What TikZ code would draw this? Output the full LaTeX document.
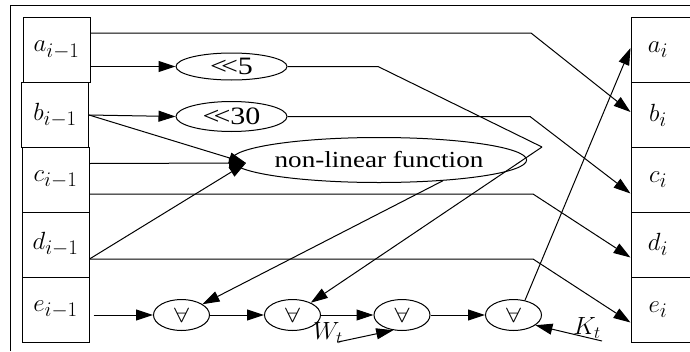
\documentclass[tikz,border=0pt]{standalone}
\usepackage{fontspec}
\setmainfont{Liberation Serif}
\usetikzlibrary{arrows.meta,shapes.geometric,calc}
\newcommand{\hsc}[2][1.2]{\scalebox{#1}[1]{#2}}
\begin{document}
\begin{tikzpicture}[x=1pt,y=-1pt,line width=1pt,
  arr/.style={-{Triangle[length=17pt,width=11pt]}},
  lab/.style={font=\fontsize{28}{32}\selectfont},
  lbox/.style={draw,minimum width=67pt,minimum height=65pt,inner sep=0pt,lab},
  rbox/.style={draw,minimum width=70pt,minimum height=65pt,inner sep=0pt},
  rot/.style={draw,ellipse,minimum width=111pt,inner sep=0pt,font=\fontsize{25}{28}\selectfont},
  add/.style={draw,ellipse,minimum width=56pt,minimum height=31pt,inner sep=0pt,font=\fontsize{22}{26}\selectfont}]
\useasboundingbox (0,0) rectangle (690,351);
\draw (10,351) -- (10,5) -- (690,5);
% left registers
\node[lbox] (a1) at (56.5,50) {$a_{i-1}$};
\node[lbox] (b1) at (55,115) {$b_{i-1}$};
\node[lbox] (c1) at (55.5,179.5) {$c_{i-1}$};
\node[lbox] (d1) at (55.5,244.5) {$d_{i-1}$};
\node[lbox] (e1) at (55.5,309.5) {$e_{i-1}$};
% right registers
\node[rbox,label={[lab,xshift=-8pt]center:$a_i$}] (ai) at (666,50) {};
\node[rbox,label={[lab,xshift=-8pt]center:$b_i$}] (bi) at (666,115) {};
\node[rbox,label={[lab,xshift=-8pt]center:$c_i$}] (ci) at (666,179.5) {};
\node[rbox,label={[lab,xshift=-8pt]center:$d_i$}] (di) at (666,244.5) {};
\node[rbox,label={[lab,xshift=-8pt]center:$e_i$}] (ei) at (666,309.5) {};
% functions
\node[rot,minimum height=27pt] (r5) at (231.5,66.5) {\hsc{<\kern-0.2em<5}};
\node[rot,minimum height=30pt] (r30) at (231.5,116.5) {\hsc{<\kern-0.2em<30}};
\node[draw,ellipse,minimum width=258pt,minimum height=45pt,inner sep=0pt,font=\fontsize{23}{26}\selectfont] (nlf) at (379,160) {\hsc[1.18]{non-linear function}};
\node[add] (f1) at (181.5,315) {\hsc[1.3]{$\forall$}};
\node[add] (f2) at (292.5,315) {\hsc[1.3]{$\forall$}};
\node[add] (f3) at (402,315) {\hsc[1.3]{$\forall$}};
\node[add] (f4) at (513.5,315) {\hsc[1.3]{$\forall$}};
\node[font=\fontsize{24}{26}\selectfont] (wt) at (328,333) {$W_t$};
\node[font=\fontsize{24}{26}\selectfont] (kt) at (587,328) {$K_t$};
\coordinate (jn) at (246,163);
\coordinate (wtc) at (338,342);
\coordinate (ktc) at (602,341);
% connectors
\draw[arr] ($(a1.east)+(0,-17)$) -- (531,33) -- ($(bi.west)+(0,-3)$);
\draw[arr] ($(a1.east)+(0,16.5)$) -- (r5.west);
\draw (r5.east) -- (378,66.5) -- (542,147);
\draw[arr] (542,147) -- (f2);
\draw[arr] (b1.east) -- (r30.west);
\draw[arr] (r30.east) -- (530,116.5) -- ($(ci.west)+(0,14)$);
\draw[arr] (b1.east) -- (jn);
\draw[arr] ($(c1.east)+(0,-16)$) -- (jn);
\draw[arr] ($(d1.east)+(0,14.5)$) -- (jn);
\draw[arr] ($(c1.east)+(0,14.5)$) -- (533,194) -- ($(di.west)+(0,13)$);
\draw[arr] ($(d1.east)+(0,14.5)$) -- (533,259) -- ($(ei.west)+(0,13)$);
\draw[arr] (nlf.-18) -- (f1);
\draw[arr] ([xshift=4pt]e1.east |- f1.west) -- (f1.west);
\draw[arr] (f1) -- (f2);
\draw[arr] (f2) -- (f3);
\draw[arr] (f3) -- (f4);
\draw[arr] (f4.52) -- ($(ai.west)+(0,-2)$);
\draw[arr] (wtc) -- (f3.-120);
\draw[arr] (ktc) -- (f4.-25);
\end{tikzpicture}
\end{document}
